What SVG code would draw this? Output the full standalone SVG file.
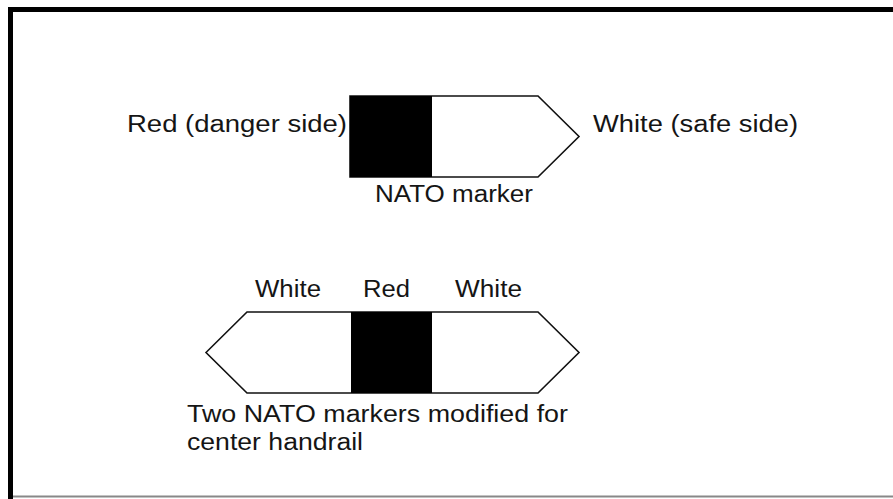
<svg xmlns="http://www.w3.org/2000/svg" width="893" height="499" viewBox="0 0 893 499">
  <style>
    .lbl { font-family: "Liberation Sans", Arial, sans-serif; font-size: 23px; fill: #151515; }
    .outline { fill: #fff; stroke: #111; stroke-width: 1.6; stroke-linejoin: miter; }
    .red { fill: #000; }
  </style>
  <rect x="0" y="0" width="893" height="499" fill="#fff"/>
  <g id="frame">
    <rect x="8" y="7" width="885" height="5" fill="#000"/>
    <rect x="8" y="7" width="5" height="492" fill="#000"/>
    <rect x="13" y="495.5" width="880" height="2" fill="#888"/>
  </g>
  <g id="nato-marker">
    <polygon class="outline" points="350,96 538,96 579,136.5 538,177 350,177"/>
    <rect class="red" x="350" y="96" width="82" height="81"/>
    <text class="lbl" x="127" y="132" textLength="220" lengthAdjust="spacingAndGlyphs">Red (danger side)</text>
    <text class="lbl" x="593" y="132" textLength="205" lengthAdjust="spacingAndGlyphs">White (safe side)</text>
    <text class="lbl" x="375" y="202" textLength="158" lengthAdjust="spacingAndGlyphs">NATO marker</text>
  </g>
  <g id="handrail-marker">
    <polygon class="outline" points="206,352.5 247,312 538,312 579,352.5 538,393 247,393"/>
    <rect class="red" x="351" y="312" width="81" height="81"/>
    <text class="lbl" x="255" y="297" textLength="66" lengthAdjust="spacingAndGlyphs">White</text>
    <text class="lbl" x="363" y="297" textLength="47" lengthAdjust="spacingAndGlyphs">Red</text>
    <text class="lbl" x="455" y="297" textLength="67" lengthAdjust="spacingAndGlyphs">White</text>
    <text class="lbl" x="187" y="422" textLength="381" lengthAdjust="spacingAndGlyphs">Two NATO markers modified for</text>
    <text class="lbl" x="187" y="450" textLength="176" lengthAdjust="spacingAndGlyphs">center handrail</text>
  </g>
</svg>
